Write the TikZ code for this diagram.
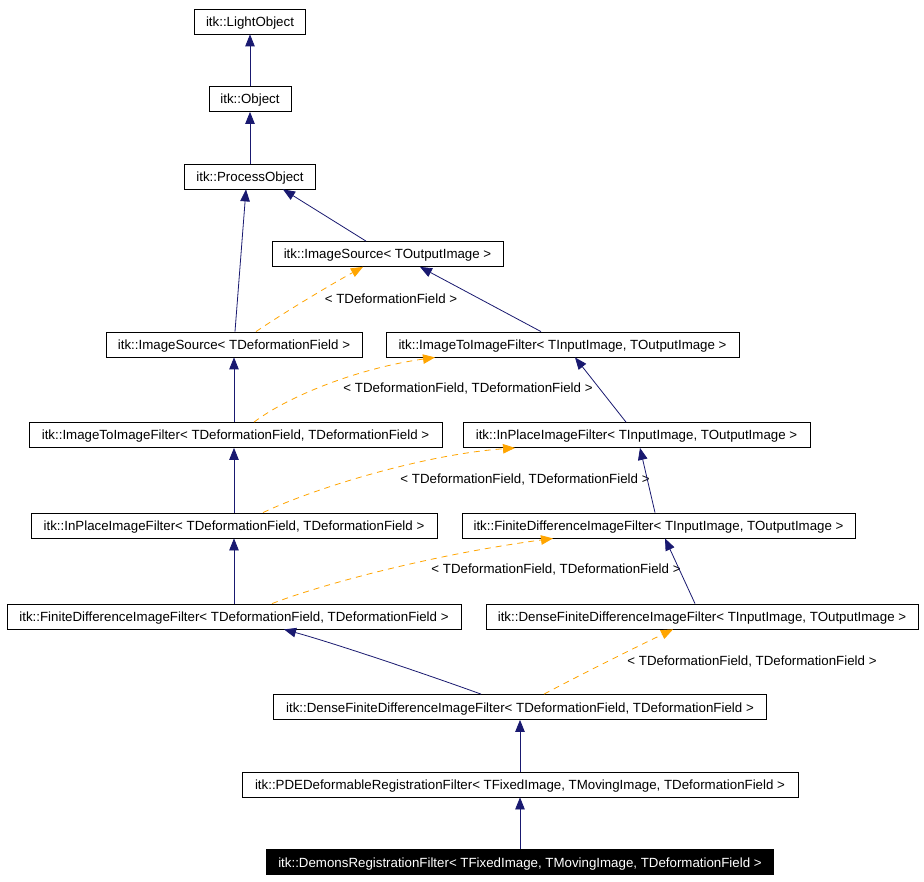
\documentclass[tikz,border=0pt]{standalone}
\usepackage{fontspec}
\setmainfont{Liberation Sans}
\usetikzlibrary{arrows.meta}
\definecolor{navy}{HTML}{191970}
\definecolor{orng}{HTML}{FFA500}
\begin{document}
\begin{tikzpicture}[x=1pt,y=-1pt,
 cls/.style={draw=black,line width=0.8pt,minimum height=25pt,inner sep=0pt,text height=11pt,text depth=1pt,font=\fontsize{13.3}{15}\selectfont},
 leaf/.style={cls,fill=black,text=white},
 inh/.style={draw=navy,line width=0.8pt,-{Triangle[length=12pt,width=9.5pt]}},
 tpl/.style={draw=orng,line width=0.8pt,dash pattern=on 6pt off 5pt,-{Triangle[length=12pt,width=9.5pt]}},
 lbl/.style={font=\fontsize{13.3}{15}\selectfont,inner sep=0pt}]
\useasboundingbox[fill=white] (0,0) rectangle (924,882);
% classes
\node[cls,minimum width=111pt] (LO) at (250,21.5) {itk::LightObject};
\node[cls,minimum width=82pt] (OB) at (250,99) {itk::Object};
\node[cls,minimum width=131pt] (PO) at (250,176.5) {itk::ProcessObject};
\node[cls,minimum width=231pt] (ISout) at (387.5,254) {itk::ImageSource< TOutputImage >};
\node[cls,minimum width=256pt] (ISdef) at (234,344.5) {itk::ImageSource< TDeformationField >};
\node[cls,minimum width=353pt] (ITIin) at (562.5,344.5) {itk::ImageToImageFilter< TInputImage, TOutputImage >};
\node[cls,minimum width=413pt] (ITIdef) at (235.5,435) {itk::ImageToImageFilter< TDeformationField, TDeformationField >};
\node[cls,minimum width=347pt] (IPin) at (636.5,435) {itk::InPlaceImageFilter< TInputImage, TOutputImage >};
\node[cls,minimum width=406pt] (IPdef) at (234,525.5) {itk::InPlaceImageFilter< TDeformationField, TDeformationField >};
\node[cls,minimum width=393pt] (FDin) at (658.5,525.5) {itk::FiniteDifferenceImageFilter< TInputImage, TOutputImage >};
\node[cls,minimum width=454pt] (FDdef) at (234,616.5) {itk::FiniteDifferenceImageFilter< TDeformationField, TDeformationField >};
\node[cls,minimum width=432pt] (DFDin) at (702,616.5) {itk::DenseFiniteDifferenceImageFilter< TInputImage, TOutputImage >};
\node[cls,minimum width=493pt] (DFDdef) at (520,707) {itk::DenseFiniteDifferenceImageFilter< TDeformationField, TDeformationField >};
\node[cls,minimum width=556pt] (PDE) at (520,784.5) {itk::PDEDeformableRegistrationFilter< TFixedImage, TMovingImage, TDeformationField >};
\node[leaf,minimum width=507pt] (DEM) at (520,862) {itk::DemonsRegistrationFilter< TFixedImage, TMovingImage, TDeformationField >};
% labels
\node[lbl] (L1) at (391,298.5) {< TDeformationField >};
\node[lbl] (L2) at (468,388.5) {< TDeformationField, TDeformationField >};
\node[lbl] (L3) at (525,479.5) {< TDeformationField, TDeformationField >};
\node[lbl] (L4) at (556,569.5) {< TDeformationField, TDeformationField >};
\node[lbl] (L5) at (752,661.5) {< TDeformationField, TDeformationField >};
% inheritance
\draw[inh] (OB.north) -- (LO.south);
\draw[inh] (PO.north) -- (OB.south);
\draw[inh] ([xshift=-21.5pt]ISout.north) -- ([xshift=33pt]PO.south);
\draw[inh] ([xshift=1pt]ISdef.north) -- ([xshift=-4pt]PO.south);
\draw[inh] ([xshift=-21.5pt]ITIin.north) -- ([xshift=32.5pt]ISout.south);
\draw[inh] ([xshift=-1.5pt]ITIdef.north) -- (ISdef.south);
\draw[inh] ([xshift=-10.5pt]IPin.north) -- ([xshift=12.5pt]ITIin.south);
\draw[inh] (IPdef.north) -- ([xshift=-1.5pt]ITIdef.south);
\draw[inh] ([xshift=-3.5pt]FDin.north) -- ([xshift=3.5pt]IPin.south);
\draw[inh] (FDdef.north) -- (IPdef.south);
\draw[inh] ([xshift=-7pt]DFDin.north) -- ([xshift=6.5pt]FDin.south);
\draw[inh] ([xshift=-39pt]DFDdef.north) .. controls (420,672) and (330,642) .. ([xshift=50pt]FDdef.south);
\draw[inh] (PDE.north) -- (DFDdef.south);
\draw[inh] (DEM.north) -- (PDE.south);
% template instantiation
\draw[tpl] ([xshift=22pt]ISdef.north) .. controls (285,312) and (330,285) .. ([xshift=-24.5pt]ISout.south);
\draw[tpl] ([xshift=18.5pt]ITIdef.north) .. controls (290,395) and (360,368) .. ([xshift=-127.5pt]ITIin.south);
\draw[tpl] ([xshift=29pt]IPdef.north) .. controls (310,490) and (420,455) .. ([xshift=-121.5pt]IPin.south);
\draw[tpl] ([xshift=38pt]FDdef.north) .. controls (320,585) and (430,555) .. ([xshift=-105.5pt]FDin.south);
\draw[tpl] ([xshift=24pt]DFDdef.north) .. controls (580,675) and (630,650) .. ([xshift=-29pt]DFDin.south);
\end{tikzpicture}
\end{document}
